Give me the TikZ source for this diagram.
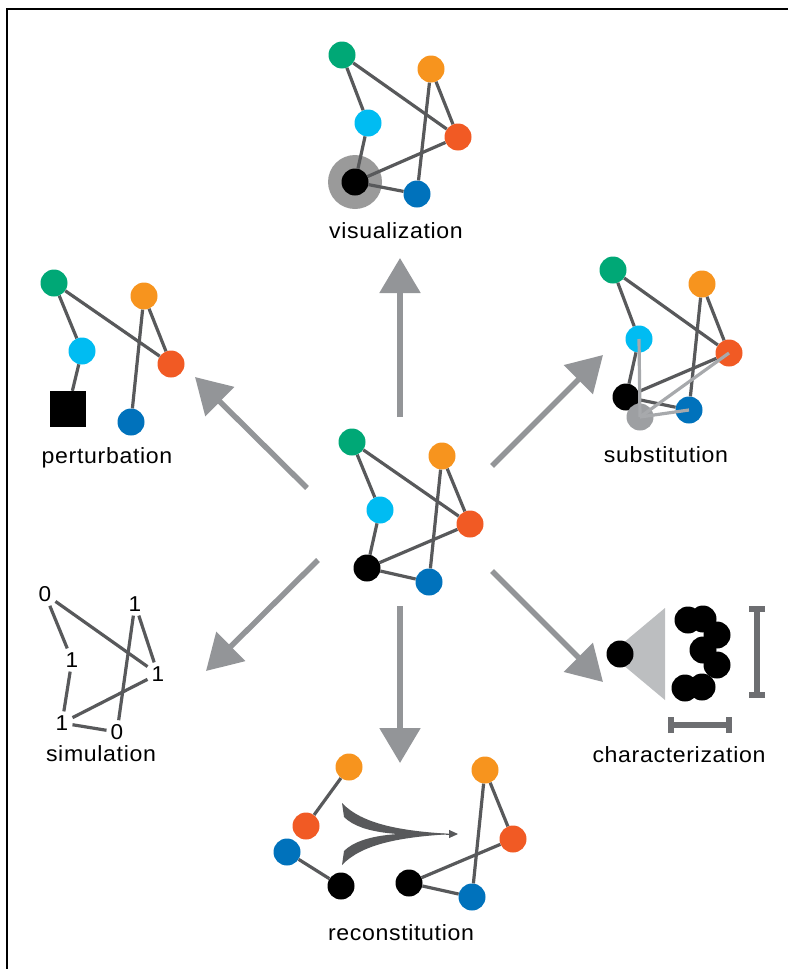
\documentclass[tikz,border=0pt]{standalone}
\usepackage{fontspec}
\setmainfont{Liberation Sans}[FakeStretch=1.05,LetterSpace=3]
\usetikzlibrary{arrows.meta}

\definecolor{cgreen}{HTML}{00A876}
\definecolor{corange}{HTML}{F7941E}
\definecolor{ccyan}{HTML}{00BCF2}
\definecolor{cred}{HTML}{F15A24}
\definecolor{cblue}{HTML}{0072BC}
\definecolor{edgegray}{HTML}{58595B}
\definecolor{arrowgray}{HTML}{939598}
\definecolor{halogray}{HTML}{9A9A9A}
\definecolor{subgray}{HTML}{9D9FA2}
\definecolor{sublink}{HTML}{A7A9AC}
\definecolor{trigray}{HTML}{BCBEC0}
\definecolor{bargray}{HTML}{6D6E71}

\begin{document}
\begin{tikzpicture}[x=1pt,y=-1pt,
  dot/.style={circle,inner sep=0pt,minimum size=27pt},
  link/.style={draw=edgegray,line width=3.2pt},
  lightlink/.style={draw=sublink,line width=3.2pt},
  bigarrow/.style={draw=arrowgray,line width=5.5pt,-{Triangle[length=35pt,width=40pt]}},
  scalebar/.style={draw=bargray,line width=6pt,{Bar[width=16pt]}-{Bar[width=16pt]}},
  lbl/.style={font=\fontsize{22}{26}\selectfont,anchor=base,inner sep=0pt},
  digit/.style={font=\fontsize{21.5}{26}\selectfont,inner sep=4pt}]

  \useasboundingbox (0,0) rectangle (788,969);
  \draw[line width=1.3pt] (7,969) -- (7,9) -- (788,9);

  \begin{scope}[shift={(352,442)}]
    \node[dot,fill=cgreen] (cg) at (0,0) {};
    \node[dot,fill=corange] (co) at (90,14) {};
    \node[dot,fill=ccyan] (cc) at (28,68) {};
    \node[dot,fill=cred] (cr) at (118,82) {};
    \node[dot,fill=black] (ck) at (15,126) {};
    \node[dot,fill=cblue] (cb) at (77,140) {};
  \end{scope}
  \path[link] (cg) edge (cc) (cg) edge (cr) (co) edge (cr) (co) edge (cb)
              (cc) edge (ck) (ck) edge (cr) (ck) edge (cb);

  \begin{scope}[shift={(342,55)}]
    \node[dot,fill=halogray,minimum size=54pt] (vh) at (13,127) {};
    \node[dot,fill=cgreen] (vg) at (0,0) {};
    \node[dot,fill=corange] (vo) at (89,14) {};
    \node[dot,fill=ccyan] (vc) at (26,68) {};
    \node[dot,fill=cred] (vr) at (116,82) {};
    \node[dot,fill=black] (vk) at (13,127) {};
    \node[dot,fill=cblue] (vb) at (75,139) {};
  \end{scope}
  \path[link] (vg) edge (vc) (vg) edge (vr) (vo) edge (vr) (vo) edge (vb)
              (vc) edge (vk) (vk) edge (vr) (vk) edge (vb);
  \node[lbl] (vislabel) at (396,238) {visualization};

  \begin{scope}[shift={(54,283)}]
    \node[dot,fill=cgreen] (pg) at (0,0) {};
    \node[dot,fill=corange] (po) at (90,13) {};
    \node[dot,fill=ccyan] (pc) at (28,68) {};
    \node[dot,fill=cred] (pr) at (117,81) {};
    \node[fill=black,inner sep=0pt,minimum size=36pt] (pk) at (14,126) {};
    \node[dot,fill=cblue] (pb) at (77,139) {};
  \end{scope}
  \path[link] (pg) edge (pc) (pg) edge (pr) (po) edge (pr) (po) edge (pb)
              (pc) edge (pk);
  \node[lbl] (perlabel) at (107,463) {perturbation};

  \begin{scope}[shift={(613,270)}]
    \node[dot,fill=cgreen] (sg) at (0,0) {};
    \node[dot,fill=corange] (so) at (89,14) {};
    \node[dot,fill=ccyan] (sc) at (26,69) {};
    \node[dot,fill=cred] (sr) at (116,83) {};
    \node[dot,fill=black] (sk) at (13,127) {};
    \node[dot,fill=cblue] (sb) at (76,140) {};
  \end{scope}
  \path[link] (sg) edge (sc) (sg) edge (sr) (so) edge (sr) (so) edge (sb)
              (sc) edge (sk) (sk) edge (sr) (sk) edge (sb);
  \node[dot,fill=subgray] (sgr) at (640,417) {};
  \path[lightlink] (sgr.center) edge (sc.center) (sgr.center) edge (sr.center)
                   (sgr.center) edge (sb.center);
  \node[lbl] (sublabel) at (666,462) {substitution};

  \begin{scope}[shift={(45,594)}]
    \node[digit] (ng) at (0,0) {0};
    \node[digit] (no) at (90,10) {1};
    \node[digit] (nc) at (27,66) {1};
    \node[digit] (nr) at (113,80) {1};
    \node[digit] (nk) at (17,129) {1};
    \node[digit] (nb) at (72,138) {0};
  \end{scope}
  \path[link] (ng) edge (nc) (ng) edge (nr) (no) edge (nr) (no) edge (nb)
              (nc) edge (nk) (nk) edge (nr) (nk) edge (nb);
  \node[lbl] (simlabel) at (101,761) {simulation};

  \fill[trigray] (665,608) -- (665,700) -- (610,654) -- cycle;
  \node[dot,fill=black] (eye) at (620,654) {};
  \fill (688,620) circle (13.5);
  \fill (703,619) circle (13.5);
  \fill (717,635) circle (13.5);
  \fill (703,650) circle (13.5);
  \fill (717,665) circle (13.5);
  \fill (702,687) circle (13.5);
  \fill (685,688) circle (13.5);
  \draw[scalebar] (757,606) -- (757,698);
  \draw[scalebar] (668,725) -- (732,725);
  \node[lbl] (charlabel) at (679,762) {characterization};

  \node[dot,fill=corange] (lo) at (349,767) {};
  \node[dot,fill=cred] (lr) at (306,826) {};
  \node[dot,fill=cblue] (lb) at (287,852) {};
  \node[dot,fill=black] (lk) at (341,886) {};
  \path[link] (lo) edge (lr) (lb) edge (lk);
  \node[dot,fill=corange] (ro) at (485,770) {};
  \node[dot,fill=cred] (rr) at (513,839) {};
  \node[dot,fill=black] (rk) at (409,883) {};
  \node[dot,fill=cblue] (rb) at (472,897) {};
  \path[link] (ro) edge (rr) (ro) edge (rb) (rk) edge (rr) (rk) edge (rb);
  \fill[edgegray] (342,803) .. controls (362,824) and (400,831) .. (452,834)
    .. controls (405,836) and (362,835) .. (344,817) -- cycle;
  \fill[edgegray] (342,865) .. controls (362,844) and (400,837) .. (452,834)
    .. controls (405,832) and (362,833) .. (344,851) -- cycle;
  \coordinate (mergefrom) at (446,834);
  \coordinate (mergeto) at (458,834);
  \draw[edgegray,line width=1pt,-{Triangle[length=9pt,width=8pt]}] (mergefrom) -- (mergeto);
  \node[lbl] (reclabel) at (401,940) {reconstitution};

  \coordinate (upfrom) at (400,417);
  \coordinate (upto) at (400,258);
  \coordinate (ulfrom) at (307,488);
  \coordinate (ulto) at (195,377);
  \coordinate (urfrom) at (492,466);
  \coordinate (urto) at (603,355);
  \coordinate (dlfrom) at (318,560);
  \coordinate (dlto) at (206,671);
  \coordinate (dnfrom) at (400,606);
  \coordinate (dnto) at (400,763);
  \coordinate (drfrom) at (492,571);
  \coordinate (drto) at (603,682);
  \draw[bigarrow] (upfrom) -- (upto);
  \draw[bigarrow] (ulfrom) -- (ulto);
  \draw[bigarrow] (urfrom) -- (urto);
  \draw[bigarrow] (dlfrom) -- (dlto);
  \draw[bigarrow] (dnfrom) -- (dnto);
  \draw[bigarrow] (drfrom) -- (drto);

\end{tikzpicture}
\end{document}
